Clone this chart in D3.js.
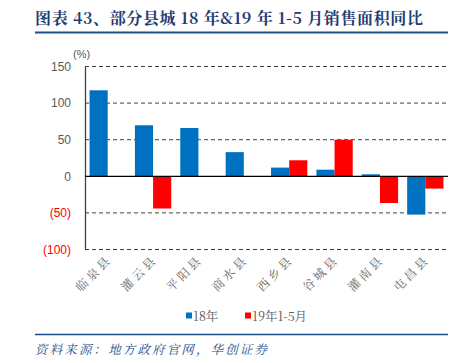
<!DOCTYPE html>
<html lang="zh">
<head>
<meta charset="UTF-8">
<title>部分县城销售面积同比</title>
<script src="https://cdnjs.cloudflare.com/ajax/libs/d3/7.8.5/d3.min.js"></script>
<style>
  body { margin: 0; background: #fff; }
  svg { display: block; }
</style>
</head>
<body>
<svg id="chart" width="472" height="363"></svg>
<script>
  // data
  const counties = ["临泉县", "灌云县", "平阳县", "商水县", "西乡县", "谷城县", "灌南县", "屯昌县"];
  const seriesNames = ["18年", "19年1-5月"];
  const y18 = [117.5, 69.7, 66, 33, 11.9, 9, 2.7, -52.3];
  const y19 = [null, -44, null, null, 21.9, 50, -36.5, -16.8];
  const yTicks = [150, 100, 50, 0, -50, -100];
  const colors = ["#0070C0", "#FF0000"];

  const svg = d3.select("#chart");
  const plotLeft = 85, plotRight = 448, plotTop = 66.5, plotBottom = 249.5;

  // title
  svg.append("text")
     .attr("x", 35).attr("y", 24)
     .attr("font-family", "'Noto Serif CJK SC', 'Noto Sans CJK SC', serif")
     .attr("font-weight", "bold")
     .attr("font-size", "16px")
     .attr("fill", "#1F3C73")
     .attr("textLength", 388).attr("lengthAdjust", "spacing")
     .style("white-space", "pre")
     .text("图表 43、部分县城 18 年&19 年 1-5 月销售面积同比");
  svg.append("line")
     .attr("x1", 35).attr("x2", 448).attr("y1", 32.5).attr("y2", 32.5)
     .attr("stroke", "#1F4E8C").attr("stroke-width", 2);

  const x = d3.scaleBand().domain(counties).range([plotLeft, plotRight]).paddingInner(0).paddingOuter(0);
  const inner = d3.scaleBand().domain(seriesNames).range([0, x.bandwidth()]).paddingOuter(0.25).paddingInner(0);
  const y = d3.scaleLinear().domain([-100, 150]).range([plotBottom, plotTop]);

  // gridlines
  svg.append("g").selectAll("line")
     .data(yTicks.filter(d => d !== 0))
     .enter().append("line")
     .attr("x1", plotLeft).attr("x2", plotRight)
     .attr("y1", d => y(d)).attr("y2", d => y(d))
     .attr("stroke", "#404040").attr("stroke-width", 1)
     .attr("stroke-dasharray", "4,3");

  // y axis
  const yAxis = svg.append("g")
     .attr("transform", `translate(${plotLeft},0)`)
     .call(d3.axisLeft(y).tickValues(yTicks).tickSize(0).tickPadding(14)
        .tickFormat(d => d < 0 ? `(${-d})` : d));
  yAxis.select(".domain").attr("stroke", "#404040").attr("stroke-width", 1.3);
  yAxis.selectAll("text")
     .attr("font-family", "'Liberation Sans', Arial, sans-serif")
     .attr("font-size", "12px")
     .attr("fill", d => d < 0 ? "#FF0000" : "#595959");

  svg.append("text")
     .attr("x", 73).attr("y", 58)
     .attr("font-family", "'Liberation Sans', Arial, sans-serif")
     .attr("font-size", "11px").attr("fill", "#595959")
     .text("(%)");

  // bars
  const series = [y18, y19];
  series.forEach((vals, si) => {
    svg.append("g").selectAll("rect")
       .data(counties.map((c, i) => ({ c, v: vals[i] })).filter(d => d.v !== null))
       .enter().append("rect")
       .attr("x", d => x(d.c) + inner(seriesNames[si]))
       .attr("width", inner.bandwidth())
       .attr("y", d => y(Math.max(0, d.v)))
       .attr("height", d => Math.abs(y(d.v) - y(0)))
       .attr("fill", colors[si]);
  });

  // zero line
  svg.append("line")
     .attr("x1", plotLeft).attr("x2", plotRight)
     .attr("y1", y(0)).attr("y2", y(0))
     .attr("stroke", "#000").attr("stroke-width", 1.2);

  // category labels
  svg.append("g").selectAll("text")
     .data(counties)
     .enter().append("text")
     .attr("transform", d => `translate(${x(d) + x.bandwidth() / 2 + 5},${plotBottom + 11}) rotate(-45)`)
     .attr("text-anchor", "end")
     .attr("font-family", "'Noto Serif CJK SC', 'Noto Sans CJK SC', serif")
     .attr("font-size", "12px")
     .attr("letter-spacing", "3px")
     .attr("fill", "#666")
     .text(d => d);

  // legend
  const legendX = [186, 245];
  seriesNames.forEach((name, i) => {
    svg.append("rect")
       .attr("x", legendX[i]).attr("y", 312.5)
       .attr("width", 6).attr("height", 6)
       .attr("fill", colors[i]);
    svg.append("text")
       .attr("x", legendX[i] + 7).attr("y", 321)
       .attr("font-family", "'Noto Serif CJK SC', 'Liberation Serif', serif")
       .attr("font-size", "12.5px").attr("fill", "#595959")
       .text(name);
  });

  // source
  svg.append("line")
     .attr("x1", 35).attr("x2", 448).attr("y1", 334.5).attr("y2", 334.5)
     .attr("stroke", "#1F4E8C").attr("stroke-width", 1.5);
  svg.append("text")
     .attr("x", 35).attr("y", 354)
     .attr("font-family", "'Noto Serif CJK SC', 'Noto Sans CJK SC', serif")
     .attr("font-style", "italic")
     .attr("font-size", "12.5px").attr("fill", "#1F4E8C")
     .attr("textLength", 232).attr("lengthAdjust", "spacing")
     .text("资料来源：地方政府官网，华创证券");
</script>
</body>
</html>
